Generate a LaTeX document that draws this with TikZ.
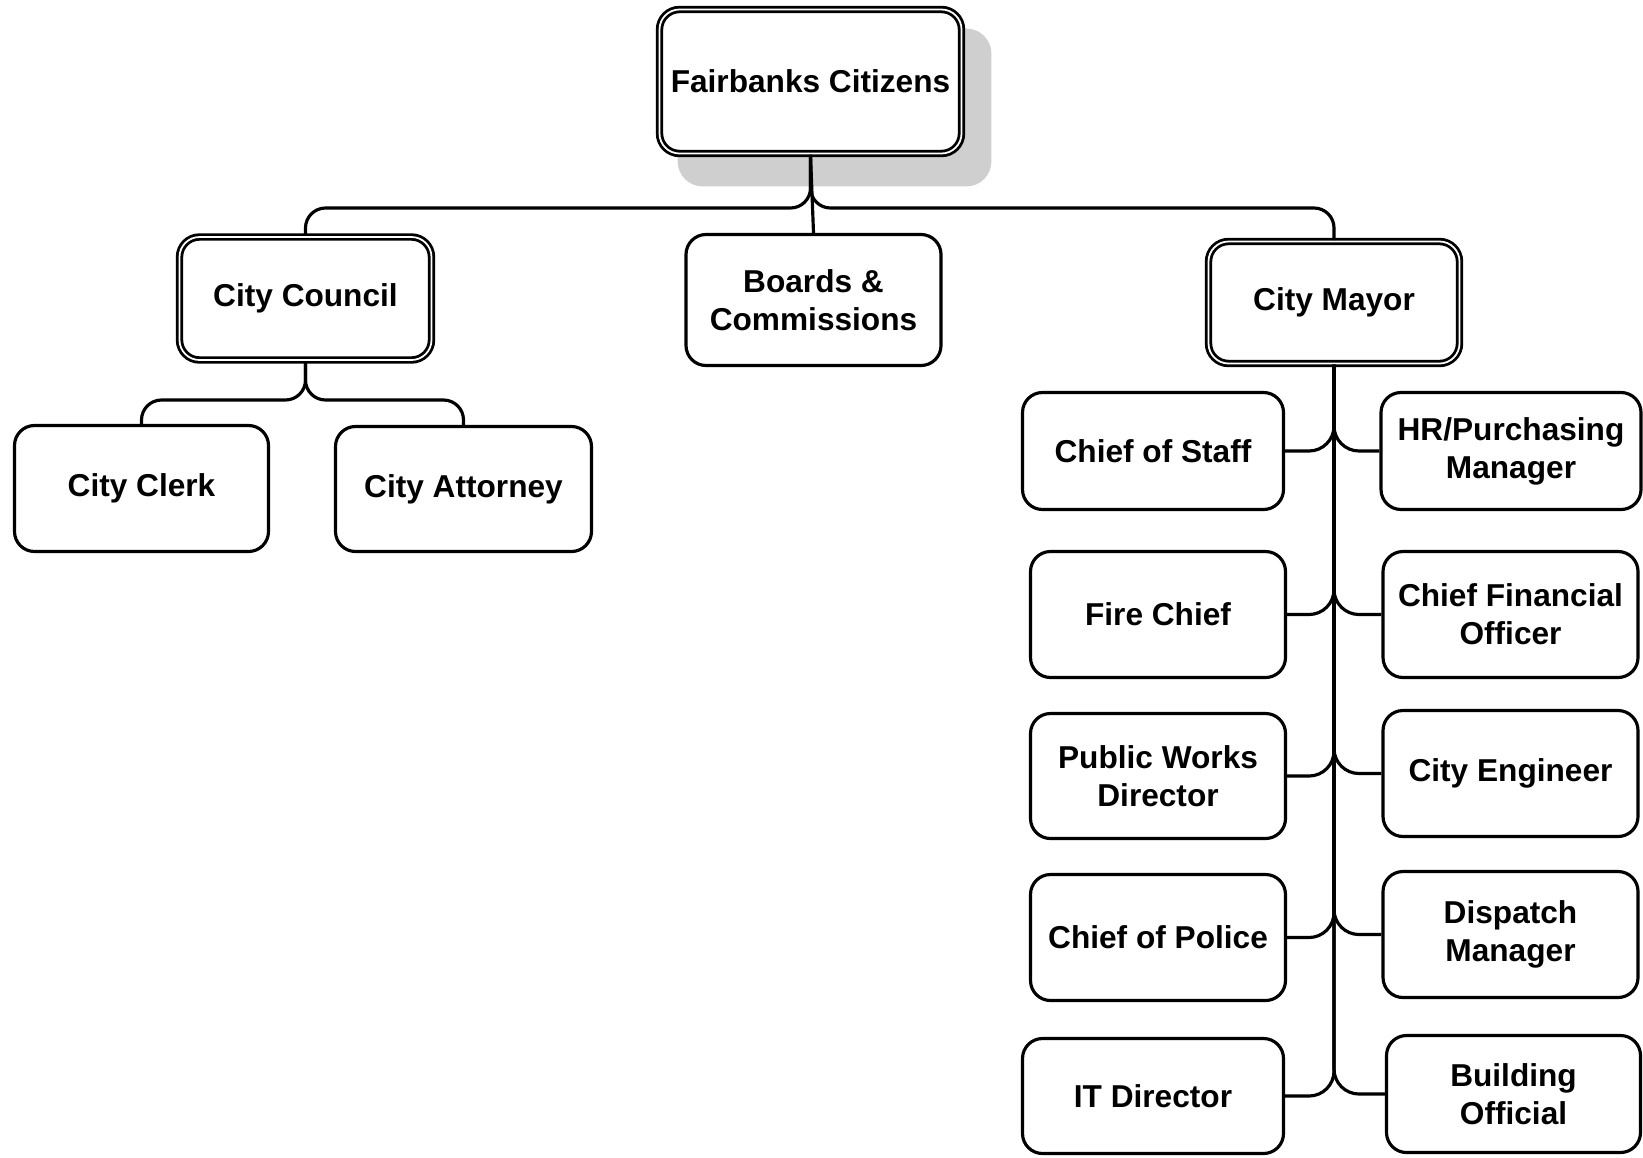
\documentclass[tikz,border=0pt]{standalone}
\usepackage{fontspec}
\setmainfont{Liberation Sans}
\usetikzlibrary{calc,backgrounds}
\begin{document}
\begin{tikzpicture}[
    caja/.style={draw, line width=0.9pt, rounded corners=0.2cm, fill=white,
      align=center, inner sep=1pt, minimum width=2.55cm, minimum height=1.26cm,
      font=\fontsize{9}{10.8}\selectfont\bfseries},
    doble/.style={caja, double, line width=0.8pt, double distance=0.5pt},
    enlace/.style={line width=0.9pt, rounded corners=0.2cm}]
  \useasboundingbox (0,0) rectangle (16.43,-11.57);
  % Nivel superior
  \node[doble, minimum width=3.02cm, minimum height=1.44cm] (fc) at (8.105,-0.815) {Fairbanks Citizens};
  \begin{scope}[on background layer]
    \fill[black!19, rounded corners=0.25cm] ($(fc.south west)+(0.195,-0.315)$) rectangle ($(fc.north east)+(0.285,-0.205)$);
  \end{scope}
  % Segundo nivel
  \node[doble, minimum width=2.52cm, minimum height=1.23cm] (council) at (3.055,-2.985) {City Council};
  \node[caja, minimum height=1.31cm] (boards) at (8.135,-3.0) {Boards \&\\Commissions};
  \node[doble, minimum width=2.51cm, minimum height=1.22cm] (mayor) at (13.34,-3.025) {City Mayor};
  % Bajo el consejo
  \node[caja, minimum width=2.54cm] (clerk) at (1.415,-4.885) {City Clerk};
  \node[caja, minimum width=2.56cm, minimum height=1.25cm] (attorney) at (4.635,-4.89) {City Attorney};
  % Bajo el alcalde, columna izquierda
  \node[caja, minimum width=2.61cm, minimum height=1.17cm] (cos) at (11.53,-4.51) {Chief of Staff};
  \node[caja] (fire) at (11.58,-6.145) {Fire Chief};
  \node[caja, minimum height=1.25cm] (pwd) at (11.58,-7.76) {Public Works\\Director};
  \node[caja] (police) at (11.58,-9.375) {Chief of Police};
  \node[caja, minimum width=2.61cm, minimum height=1.15cm] (it) at (11.53,-10.96) {IT Director};
  % Bajo el alcalde, columna derecha
  \node[caja, minimum width=2.6cm, minimum height=1.17cm] (hr) at (15.11,-4.51) {HR/Purchasing\\Manager};
  \node[caja] (cfo) at (15.105,-6.145) {Chief Financial\\Officer};
  \node[caja] (eng) at (15.105,-7.735) {City Engineer};
  \node[caja] (dispatch) at (15.105,-9.345) {Dispatch\\Manager};
  \node[caja, minimum width=2.54cm, minimum height=1.17cm] (bo) at (15.135,-10.94) {Building\\Official};
  % Conectores
  \coordinate (barra) at (8.1,-2.08);
  \coordinate (rama) at (3.055,-4.0);
  \draw[enlace] (council.north) -- (council.north |- barra) -- (fc.south |- barra) -- (fc.south);
  \draw[enlace] (mayor.north) -- (mayor.north |- barra) -- (fc.south |- barra) -- (fc.south);
  \draw[enlace] (fc.south) -- (boards.north);
  \draw[enlace] (council.south) -- (rama) -| (clerk.north);
  \draw[enlace] (council.south) -- (rama) -| (attorney.north);
  \foreach \hijo in {cos,fire,pwd,police,it}
    \draw[enlace, rounded corners=0.25cm] (mayor.south) |- (\hijo.east);
  \foreach \hijo in {hr,cfo,eng,dispatch,bo}
    \draw[enlace, rounded corners=0.25cm] (mayor.south) |- (\hijo.west);
\end{tikzpicture}
\end{document}
